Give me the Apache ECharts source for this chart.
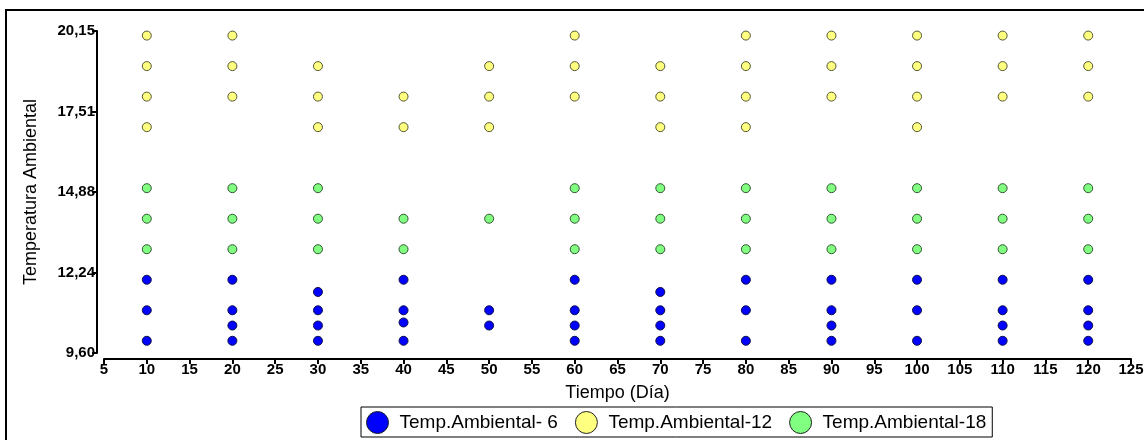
<!DOCTYPE html>
<html>
<head>
<meta charset="utf-8">
<script src="https://cdn.jsdelivr.net/npm/echarts@6/dist/echarts.min.js"></script>
<style>
  html, body { margin: 0; padding: 0; background: #fff; }
  #chart { width: 1144px; height: 440px; }
</style>
</head>
<body>
<div id="chart"></div>
<script>
// Sampling days (x axis)
const dias = [10, 20, 30, 40, 50, 60, 70, 80, 90, 100, 110, 120];

// Ambient temperature readings recorded on each day, per group
const tempAmb6 = [
  [12, 11, 10],
  [12, 11, 10.5, 10],
  [11.6, 11, 10.5, 10],
  [12, 11, 10.6, 10],
  [11, 10.5],
  [12, 11, 10.5, 10],
  [11.6, 11, 10.5, 10],
  [12, 11, 10],
  [12, 11, 10.5, 10],
  [12, 11, 10],
  [12, 11, 10.5, 10],
  [12, 11, 10.5, 10]
];
const tempAmb12 = [
  [20, 19, 18, 17],
  [20, 19, 18],
  [19, 18, 17],
  [18, 17],
  [19, 18, 17],
  [20, 19, 18],
  [19, 18, 17],
  [20, 19, 18, 17],
  [20, 19, 18],
  [20, 19, 18, 17],
  [20, 19, 18],
  [20, 19, 18]
];
const tempAmb18 = [
  [15, 14, 13],
  [15, 14, 13],
  [15, 14, 13],
  [14, 13],
  [14],
  [15, 14, 13],
  [15, 14, 13],
  [15, 14, 13],
  [15, 14, 13],
  [15, 14, 13],
  [15, 14, 13],
  [15, 14, 13]
];

const seriesNames = ['Temp.Ambiental- 6', 'Temp.Ambiental-12', 'Temp.Ambiental-18'];

// y-axis tick labels (decimal comma)
const yTickLabels = ['9,60', '12,24', '14,88', '17,51', '20,15'];
const yMin = 9.60, yMax = 20.15;

function toPoints(perDay) {
  const pts = [];
  perDay.forEach((vals, i) => vals.forEach(v => pts.push([dias[i], v])));
  return pts;
}

const font = '"Liberation Sans", Arial, sans-serif';
const chart = echarts.init(document.getElementById('chart'), null, { renderer: 'canvas' });

function scatter(name, data, fill, stroke) {
  return {
    name: name,
    type: 'scatter',
    data: toPoints(data),
    symbol: 'circle',
    symbolSize: 9,
    itemStyle: { color: fill, borderColor: stroke, borderWidth: 1, opacity: 1 },
    emphasis: { disabled: true }
  };
}

chart.setOption({
  backgroundColor: '#ffffff',
  animation: false,
  graphic: [{
    type: 'rect',
    shape: { x: 6, y: 10, width: 1300, height: 600 },
    style: { fill: 'none', stroke: '#000', lineWidth: 2 },
    silent: true,
    z: -1
  }],
  grid: { left: 104, right: 13, top: 31, bottom: 87, containLabel: false, outerBoundsMode: 'none' },
  xAxis: {
    type: 'value',
    min: 5, max: 125, interval: 5,
    offset: 6,
    name: 'Tiempo (Día)',
    nameLocation: 'middle',
    nameGap: 25,
    nameTextStyle: { fontFamily: font, fontSize: 18, color: '#000' },
    axisLine: { show: true, onZero: false, lineStyle: { color: '#000', width: 2 } },
    axisTick: { show: true, inside: false, length: 5, lineStyle: { color: '#000', width: 2 } },
    axisLabel: { fontFamily: font, fontSize: 15, fontWeight: 'bold', color: '#000', margin: 3 },
    splitLine: { show: false }
  },
  yAxis: {
    type: 'value',
    min: yMin, max: yMax, interval: (yMax - yMin) / 4,
    offset: 7,
    name: 'Temperatura Ambiental',
    nameLocation: 'middle',
    nameGap: 57,
    nameTextStyle: { fontFamily: font, fontSize: 18, color: '#000' },
    axisLine: { show: true, onZero: false, lineStyle: { color: '#000', width: 2 } },
    axisTick: { show: true, inside: false, length: 5, lineStyle: { color: '#000', width: 2 } },
    axisLabel: {
      fontFamily: font, fontSize: 15, fontWeight: 'bold', color: '#000', margin: 2,
      formatter: (v, i) => yTickLabels[i] !== undefined ? yTickLabels[i] : ''
    },
    splitLine: { show: false }
  },
  legend: {
    data: seriesNames,
    left: 361, top: 407,
    orient: 'horizontal',
    icon: 'circle',
    itemWidth: 22, itemHeight: 22,
    itemGap: 17,
    padding: [4, 6, 3, 5],
    borderColor: '#000', borderWidth: 1,
    backgroundColor: '#fff',
    itemStyle: { borderColor: '#222', borderWidth: 1 },
    textStyle: { fontFamily: font, fontSize: 19, color: '#000', padding: [0, 0, 0, 6] },
    selectedMode: false
  },
  series: [
    scatter(seriesNames[0], tempAmb6, '#0000ff', '#10104a'),
    scatter(seriesNames[1], tempAmb12, '#ffff80', '#555533'),
    scatter(seriesNames[2], tempAmb18, '#80ff80', '#335533')
  ]
});
</script>
</body>
</html>
